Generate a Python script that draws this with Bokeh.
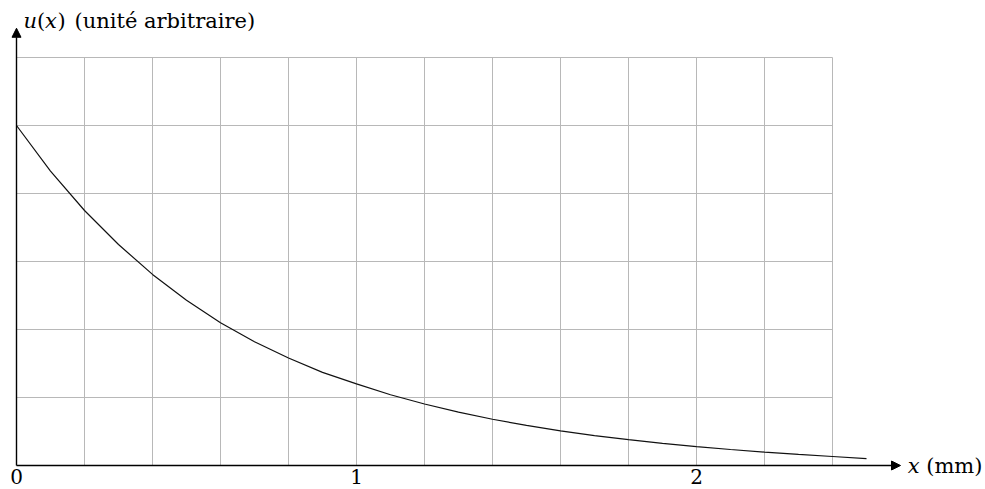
from bokeh.plotting import figure
from bokeh.models import Arrow, NormalHead, Range1d
from bokeh.core.properties import value
from bokeh.embed import file_html
from bokeh.resources import INLINE

# --- data ---
x_vals = [0.0, 0.1, 0.2, 0.3, 0.4, 0.5, 0.6, 0.7, 0.8, 0.9, 1.0, 1.1, 1.2,
          1.3, 1.4, 1.5, 1.6, 1.7, 1.8, 1.9, 2.0, 2.1, 2.2, 2.3, 2.4, 2.5]
u_vals = [5.00, 4.33, 3.75, 3.25, 2.81, 2.43, 2.10, 1.82, 1.58, 1.37, 1.20, 1.04, 0.905,
          0.785, 0.68, 0.59, 0.51, 0.44, 0.38, 0.325, 0.277, 0.235, 0.197, 0.163, 0.132, 0.102]
grid_x = [0.2, 0.4, 0.6, 0.8, 1.0, 1.2, 1.4, 1.6, 1.8, 2.0, 2.2, 2.4]
grid_y = [1, 2, 3, 4, 5, 6]
tick_x = [0, 1, 2]
tick_labels = ["0", "1", "2"]

FONT = value("DejaVu Serif")
FS = "21px"

W, H = 985, 489
PX_X, PX_Y = 340, 68          # pixels per unit
X0, Y0 = 16, 465              # pixel position of the origin

p = figure(width=W, height=H, output_backend="svg", toolbar_location=None,
           x_axis_type=None, y_axis_type=None, min_border=0)
p.x_range = Range1d(-X0 / PX_X, (W - X0) / PX_X)
p.y_range = Range1d(-(H - Y0) / PX_Y, Y0 / PX_Y)
p.outline_line_color = None
p.grid.visible = False
p.background_fill_color = "white"
p.border_fill_color = "white"

gx0, gx1 = 0, grid_x[-1]
gy0, gy1 = 0, grid_y[-1]

# grid
p.segment(x0=grid_x, y0=[gy0] * len(grid_x), x1=grid_x, y1=[gy1] * len(grid_x),
          line_color="#b8b8b8", line_width=1)
p.segment(x0=[gx0] * len(grid_y), y0=grid_y, x1=[gx1] * len(grid_y), y1=grid_y,
          line_color="#b8b8b8", line_width=1)

# curve
p.line(x_vals, u_vals, line_color="#111111", line_width=1.2)

# axes with arrows
p.add_layout(Arrow(x_start=0, y_start=0, x_end=2.6, y_end=0, line_color="black", line_width=1.4,
                   end=NormalHead(size=9, fill_color="black", line_color="black", line_width=1)))
p.add_layout(Arrow(x_start=0, y_start=0, x_end=0, y_end=6.43, line_color="black", line_width=1.4,
                   end=NormalHead(size=9, fill_color="black", line_color="black", line_width=1)))

# tick labels
p.text(x=tick_x, y=[-0.16] * 3, text=tick_labels, text_font=FONT, text_font_size="20px",
       text_align="center", text_baseline="alphabetic", text_color="black")

# y axis title
ty = 6.53
p.text(x=[0.0206], y=[ty], text=["u"], text_font=FONT, text_font_size=FS,
       text_font_style="italic", text_baseline="alphabetic", text_color="black")
p.text(x=[0.06], y=[ty], text=["("], text_font=FONT, text_font_size=FS,
       text_baseline="alphabetic", text_color="black")
p.text(x=[0.0841], y=[ty], text=["x"], text_font=FONT, text_font_size=FS,
       text_font_style="italic", text_baseline="alphabetic", text_color="black")
p.text(x=[0.1206], y=[ty], text=[")"], text_font=FONT, text_font_size=FS,
       text_baseline="alphabetic", text_color="black")
p.text(x=[0.1706], y=[ty], text=["(unité arbitraire)"], text_font=FONT, text_font_size=FS,
       text_baseline="alphabetic", text_color="black")

# x axis title
xy = 0.0
p.text(x=[2.621], y=[xy], text=["x"], text_font=FONT, text_font_size=FS,
       text_font_style="italic", text_baseline="alphabetic", text_color="black")
p.text(x=[2.841], y=[xy], text=["(mm)"], text_font=FONT, text_font_size=FS,
       text_align="right", text_baseline="alphabetic", text_color="black")

open("out.html", "w").write(file_html(p, INLINE))
